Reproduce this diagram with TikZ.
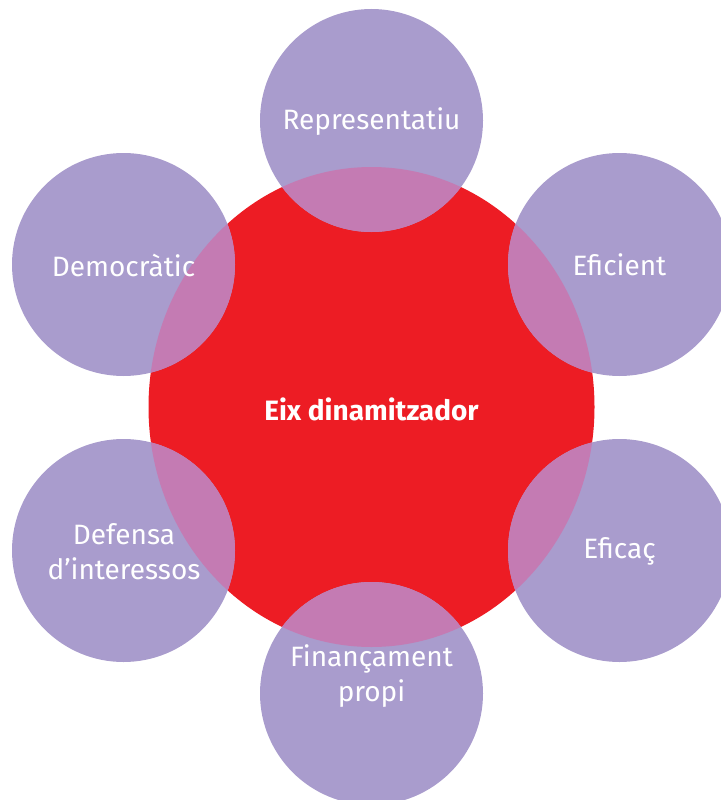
\documentclass[tikz,border=0pt]{standalone}
\usepackage{fontspec}
\setmainfont{Fira Sans}
\usepackage{tikz}
\usetikzlibrary{positioning}
\definecolor{eixred}{HTML}{ED1C24}
\definecolor{lila}{HTML}{A99CCD}
\definecolor{rosa}{HTML}{C47BB3}
\tikzset{
  label text/.style={text=white, align=center, font=\fontsize{28}{35}\selectfont},
  eix text/.style={text=white, font=\fontsize{28}{32}\selectfont\bfseries}
}
\newcommand{\bolla}{111.5pt}

\begin{document}
\begin{tikzpicture}[x=1pt,y=-1pt]
\useasboundingbox (0,0) rectangle (720,800);
% centres of the circles
\coordinate (eix) at (371.5,407);
\coordinate (repr) at (371.5,120.5);
\coordinate (demo) at (123.5,264.5);
\coordinate (efic) at (619.5,264.5);
\coordinate (defe) at (123.5,550.5);
\coordinate (efca) at (619.5,550.5);
\coordinate (fina) at (371.5,693.5);

% the red disc and the six lilac discs
\fill[eixred] (eix) ellipse [x radius=223pt, y radius=240pt];
\foreach \c in {repr,demo,efic,defe,efca,fina}
  \fill[lila] (\c) circle [radius=\bolla];

% overlaps in pink
\begin{scope}
\clip (eix) ellipse [x radius=223pt, y radius=240pt];
\foreach \c in {repr,demo,efic,defe,efca,fina}
  \fill[rosa] (\c) circle [radius=\bolla];
\end{scope}

% labels
\node[eix text] (eixlbl) at (371.5,409) {Eix dinamitzador};
\node[label text] (reprlbl) at (371.5,122) {Representatiu};
\node[label text] (demolbl) at (123.5,265) {Democràtic};
\node[label text] (eficlbl) at (619.5,265) {Eficient};
\node[label text] (defelbl) at (124,552) {Defensa\\d’interessos};
\node[label text] (efcalbl) at (619.5,551) {Eficaç};
\node[label text] (finalbl) at (371.5,676) {Finançament\\propi};
\end{tikzpicture}
\end{document}
